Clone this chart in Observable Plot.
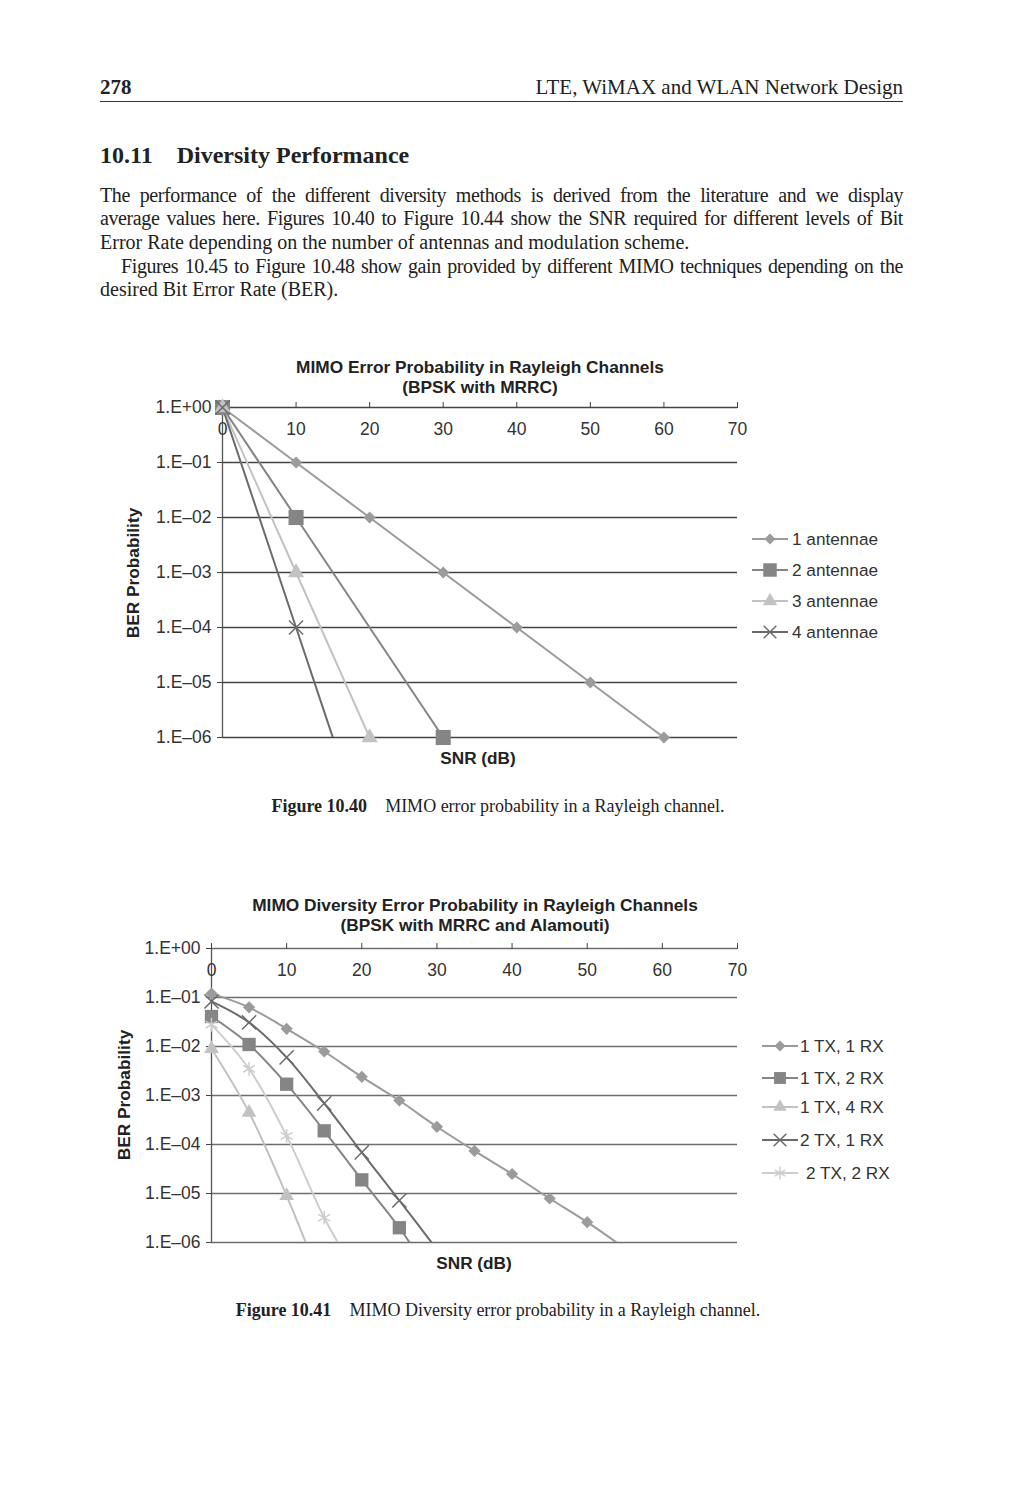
<!DOCTYPE html>
<html>
<head>
<meta charset="utf-8">
<script src="https://cdn.jsdelivr.net/npm/d3@7"></script>
<script src="https://cdn.jsdelivr.net/npm/@observablehq/plot@0.6"></script>
<style>
  html, body { margin: 0; padding: 0; background: #fff; }
  #page { position: relative; width: 1032px; height: 1500px; background: #fff; overflow: hidden; color: #222; }
  .serif { font-family: "Liberation Serif", "Times New Roman", serif; }
  .abs { position: absolute; white-space: nowrap; }
  .line { position: absolute; left: 100px; width: 803px; font-family: "Liberation Serif", serif; font-size: 20px; line-height: 23px; color: #222; white-space: nowrap; }
  .just { text-align: justify; text-align-last: justify; white-space: normal; letter-spacing: -0.4px; height: 23px; overflow: visible; }
  .ctitle { position: absolute; font-family: "Liberation Sans", Arial, sans-serif; font-weight: bold; font-size: 17.3px; line-height: 20px; text-align: center; color: #222; }
  .ylab { position: absolute; font-family: "Liberation Sans", Arial, sans-serif; font-weight: bold; font-size: 17.3px; transform: translate(-50%, -50%) rotate(-90deg); white-space: nowrap; color: #222; }
  .xlab { position: absolute; font-family: "Liberation Sans", Arial, sans-serif; font-weight: bold; font-size: 17.2px; transform: translate(-50%, -50%); white-space: nowrap; color: #222; }
  .leg { position: absolute; font-family: "Liberation Sans", Arial, sans-serif; font-size: 17.2px; color: #333; display: flex; align-items: center; white-space: nowrap; }
  .cap { position: absolute; font-family: "Liberation Serif", serif; font-size: 18px; transform: translate(-50%, -50%); white-space: nowrap; color: #222; }
  .plotbox { position: absolute; }
</style>
</head>
<body>
<div id="page">
  <div class="abs serif" style="left:100px; top:75px; font-size:21px; font-weight:bold;">278</div>
  <div class="abs serif" style="right:129px; top:75px; font-size:21px;">LTE, WiMAX and WLAN Network Design</div>
  <div style="position:absolute; left:100px; top:101px; width:803px; height:0; border-top:1.6px solid #333;"></div>

  <div class="abs serif" style="left:100px; top:142px; font-size:24px; font-weight:bold;">10.11<span style="display:inline-block;width:24px"></span>Diversity Performance</div>

  <div class="line just" style="top:184px;">The performance of the different diversity methods is derived from the literature and we display</div>
  <div class="line just" style="top:207px;">average values here. Figures 10.40 to Figure 10.44 show the SNR required for different levels of Bit</div>
  <div class="line" style="top:231px;">Error Rate depending on the number of antennas and modulation scheme.</div>
  <div class="line just" style="top:255px; left:121px; width:782px;">Figures 10.45 to Figure 10.48 show gain provided by different MIMO techniques depending on the</div>
  <div class="line" style="top:278px;">desired Bit Error Rate (BER).</div>

  <!-- Chart 1 -->
  <div class="ctitle" style="left:230px; width:500px; top:357px;">MIMO Error Probability in Rayleigh Channels<br>(BPSK with MRRC)</div>
  <div id="chart1" class="plotbox" style="left:130px; top:395px;"></div>
  <div class="ylab" style="left:133px; top:573px;">BER Probability</div>
  <div class="xlab" style="left:478px; top:758px;">SNR (dB)</div>
  <div id="legend1"></div>
  <div class="cap" style="left:498px; top:806px;"><b>Figure 10.40</b>&nbsp;&nbsp;&nbsp; MIMO error probability in a Rayleigh channel.</div>

  <!-- Chart 2 -->
  <div class="ctitle" style="left:225px; width:500px; top:895px;">MIMO Diversity Error Probability in Rayleigh Channels<br>(BPSK with MRRC and Alamouti)</div>
  <div id="chart2" class="plotbox" style="left:120px; top:936px;"></div>
  <div class="ylab" style="left:124px; top:1095px;">BER Probability</div>
  <div class="xlab" style="left:474px; top:1263px;">SNR (dB)</div>
  <div id="legend2"></div>
  <div class="cap" style="left:498px; top:1310px;"><b>Figure 10.41</b>&nbsp;&nbsp;&nbsp; MIMO Diversity error probability in a Rayleigh channel.</div>
</div>

<script>
// ---------- shared axis data ----------
const berTicks = [1, 1e-1, 1e-2, 1e-3, 1e-4, 1e-5, 1e-6];
const berTickLabels = ["1.E+00", "1.E\u201301", "1.E\u201302", "1.E\u201303", "1.E\u201304", "1.E\u201305", "1.E\u201306"];
const snrTicks = [0, 10, 20, 30, 40, 50, 60, 70];

// ---------- Chart 1 data (BPSK with MRRC) ----------
const names1 = ["1 antennae", "2 antennae", "3 antennae", "4 antennae"];
const ant1Snr = [0, 10, 20, 30, 40, 50, 60];
const ant1Ber = [1, 1e-1, 1e-2, 1e-3, 1e-4, 1e-5, 1e-6];
const ant2Snr = [0, 10, 30];
const ant2Ber = [1, 1e-2, 1e-6];
const ant3Snr = [0, 10, 20];
const ant3Ber = [1, 1e-3, 1e-6];
const ant4Snr = [0, 10, 20];
const ant4Ber = [1, 1e-4, 1e-8];

// ---------- Chart 2 data (BPSK with MRRC and Alamouti) ----------
const names2 = ["1 TX, 1 RX", "1 TX, 2 RX", "1 TX, 4 RX", "2 TX, 1 RX", "2 TX, 2 RX"];
const t1r1Snr = [0, 5, 10, 15, 20, 25, 30, 35, 40, 45, 50, 55];
const t1r1Ber = [0.12, 0.063, 0.023, 0.0079, 0.0024, 0.00079, 0.00023, 0.000074, 0.000025, 0.0000079, 0.0000026, 0.00000076];
const t1r2Snr = [0, 5, 10, 15, 20, 25, 30];
const t1r2Ber = [0.041, 0.011, 0.0017, 0.00019, 0.000019, 0.000002, 0.00000014];
const t1r4Snr = [0, 5, 10, 15];
const t1r4Ber = [0.009, 0.00045, 0.000009, 0.00000011];
const t2r1Snr = [0, 5, 10, 15, 20, 25, 30];
const t2r1Ber = [0.083, 0.031, 0.006, 0.00069, 0.000069, 0.0000072, 0.00000072];
const t2r2Snr = [0, 5, 10, 15, 20];
const t2r2Ber = [0.028, 0.0035, 0.00015, 0.0000032, 0.00000015];

// ---------- styles ----------
const styles1 = {
  "1 antennae": {color: "#9b9b9b", symbol: "diamond2", r: 5.5, filled: true},
  "2 antennae": {color: "#858585", symbol: "square", r: 8.5, filled: true},
  "3 antennae": {color: "#c2c2c2", symbol: "triangle", r: 6, filled: true},
  "4 antennae": {color: "#6b6b6b", symbol: "times", r: 6.5, filled: false}
};
const styles2 = {
  "1 TX, 1 RX": {color: "#9b9b9b", symbol: "diamond2", r: 5.5, filled: true},
  "1 TX, 2 RX": {color: "#858585", symbol: "square", r: 7.5, filled: true},
  "1 TX, 4 RX": {color: "#c2c2c2", symbol: "triangle", r: 5.5, filled: true},
  "2 TX, 1 RX": {color: "#6b6b6b", symbol: "times", r: 6.5, filled: false},
  "2 TX, 2 RX": {color: "#cdcdcd", symbol: "asterisk", r: 6.5, filled: false}
};

function toRows(name, xs, ys) { return xs.map((x, i) => ({series: name, snr: x, ber: ys[i]})); }

const rows1 = [
  ...toRows(names1[0], ant1Snr, ant1Ber),
  ...toRows(names1[1], ant2Snr, ant2Ber),
  ...toRows(names1[2], ant3Snr, ant3Ber),
  ...toRows(names1[3], ant4Snr, ant4Ber)
];
const rows2 = [
  ...toRows(names2[0], t1r1Snr, t1r1Ber),
  ...toRows(names2[1], t1r2Snr, t1r2Ber),
  ...toRows(names2[2], t1r4Snr, t1r4Ber),
  ...toRows(names2[3], t2r1Snr, t2r1Ber),
  ...toRows(names2[4], t2r2Snr, t2r2Ber)
];

function berLabel(d) {
  const k = Math.round(-Math.log10(d));
  return berTickLabels[berTicks.findIndex(t => Math.round(-Math.log10(t)) === k)];
}

function makeChart(rows, names, styles, opts) {
  const marks = [
    Plot.ruleY(berTicks, {stroke: opts.gridColor, strokeWidth: 1.3}),
    Plot.ruleX([0], {stroke: "#555", strokeWidth: 1.3}),
    Plot.axisY({ticks: berTicks, tickFormat: berLabel, tickSize: 5, tickPadding: 6, label: null, fontSize: 17.5, stroke: "#444"}),
    Plot.axisX({anchor: "top", ticks: snrTicks, tickSize: 6, tickFormat: () => "", label: null, stroke: "#444"}),
    Plot.axisX({anchor: "top", ticks: snrTicks, tickSize: 0, tickPadding: 0, dy: 27, label: null, fontSize: 17.5})
  ];
  for (const name of names) {
    const s = styles[name];
    const data = rows.filter(d => d.series === name);
    marks.push(Plot.line(data, {x: "snr", y: "ber", stroke: s.color, strokeWidth: 2, curve: opts.curve, clip: true}));
  }
  for (const name of names) {
    const s = styles[name];
    const data = rows.filter(d => d.series === name && d.ber >= 1e-6);
    if (s.filled) {
      marks.push(Plot.dot(data, {x: "snr", y: "ber", symbol: () => s.symbol, r: s.r, fill: s.color, stroke: "none"}));
    } else {
      marks.push(Plot.dot(data, {x: "snr", y: "ber", symbol: () => s.symbol, r: s.r, fill: "none", stroke: s.color, strokeWidth: 1.5}));
    }
  }
  return Plot.plot({
    width: opts.width, height: opts.height,
    marginLeft: opts.marginLeft, marginRight: opts.marginRight,
    marginTop: opts.marginTop, marginBottom: opts.marginBottom,
    x: {domain: [0, 70]},
    y: {type: "log", domain: [1e-6, 1]},
    symbol: {type: "identity"},
    style: {fontFamily: "'Liberation Sans', Arial, sans-serif", fontSize: "17.5px", color: "#333", background: "transparent", overflow: "visible"},
    marks
  });
}

document.getElementById("chart1").appendChild(makeChart(rows1, names1, styles1, {
  width: 625, height: 350, marginLeft: 92, marginRight: 18, marginTop: 12, marginBottom: 8,
  curve: "linear", gridColor: "#444"
}));
document.getElementById("chart2").appendChild(makeChart(rows2, names2, styles2, {
  width: 630, height: 314, marginLeft: 91, marginRight: 13, marginTop: 12, marginBottom: 8,
  curve: "catmull-rom", gridColor: "#6e6e6e"
}));

// ---------- legends ----------
const symMap = {diamond2: d3.symbolDiamond2, square: d3.symbolSquare, triangle: d3.symbolTriangle, times: d3.symbolTimes, asterisk: d3.symbolAsterisk};
function legend(containerId, names, styles, lefts, tops, textLefts) {
  const c = document.getElementById(containerId);
  names.forEach((name, i) => {
    const s = styles[name];
    const div = document.createElement("div");
    div.className = "leg";
    div.style.left = lefts + "px";
    div.style.top = (tops[i] - 10) + "px";
    div.style.height = "20px";
    const size = Math.PI * s.r * s.r * 0.8;
    const path = d3.symbol(symMap[s.symbol], size)();
    const svg = `<svg width="${textLefts[i] - lefts}" height="20" style="display:block">
      <line x1="0" x2="36" y1="10" y2="10" stroke="${s.color}" stroke-width="2"/>
      <path transform="translate(18,10)" d="${path}" fill="${s.filled ? s.color : "none"}" stroke="${s.filled ? "none" : s.color}" stroke-width="1.5"/>
    </svg>`;
    div.innerHTML = svg + `<span>${name}</span>`;
    c.appendChild(div);
  });
}
legend("legend1", names1, styles1, 752, [539, 570, 601, 632], [792, 792, 792, 792]);
legend("legend2", names2, styles2, 762, [1046, 1078, 1107, 1140, 1173], [800, 800, 800, 800, 806]);
</script>
</body>
</html>
